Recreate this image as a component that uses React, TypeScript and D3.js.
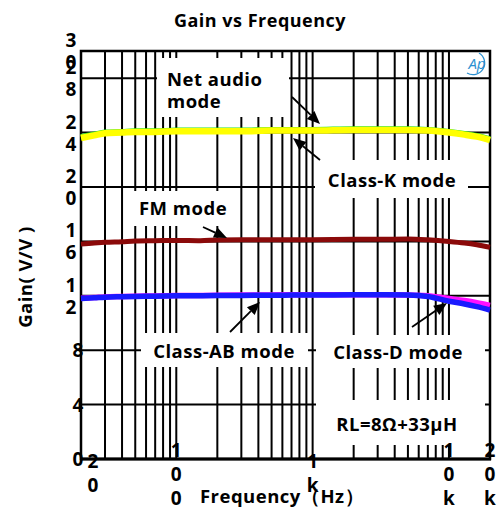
import React from "react";
import * as d3 from "d3";

// Measured gain (V/V) of each operating mode against frequency (Hz)
const freqs = [20, 25, 30, 40, 50, 70, 100, 150, 200, 300, 500, 700, 1000, 2000, 3000, 5000, 7000, 10000, 13000, 16000, 20000];
const netAudio = [23.6, 23.8, 23.95, 24.0, 24.05, 24.05, 24.1, 24.1, 24.1, 24.1, 24.15, 24.15, 24.15, 24.2, 24.2, 24.2, 24.15, 24.0, 23.85, 23.7, 23.45];
const classK = [23.68, 23.86, 24.0, 24.05, 24.1, 24.1, 24.15, 24.15, 24.15, 24.15, 24.2, 24.2, 24.2, 24.25, 24.25, 24.25, 24.2, 24.05, 23.9, 23.75, 23.5];
const fmMode = [15.8, 15.88, 15.93, 15.98, 16.03, 16.05, 16.07, 16.05, 16.1, 16.12, 16.12, 16.13, 16.13, 16.15, 16.15, 16.18, 16.12, 16.0, 15.88, 15.75, 15.57];
const classD = [11.82, 11.87, 11.92, 11.95, 11.97, 11.99, 12.02, 12.03, 12.04, 12.05, 12.06, 12.07, 12.07, 12.08, 12.08, 12.06, 12.0, 11.8, 11.65, 11.5, 11.3];
const classAB = [11.8, 11.85, 11.9, 11.93, 11.95, 11.97, 12.0, 12.01, 12.02, 12.03, 12.04, 12.05, 12.05, 12.07, 12.07, 12.05, 11.95, 11.6, 11.4, 11.2, 10.95];

const xTickValues = [20, 100, 1000, 10000, 20000];
const xTickLabels = ["20", "100", "1k", "10k", "20k"];
const yTickValues = [0, 4, 8, 12, 16, 20, 24, 28, 30];
const yTickLabels = ["0", "4", "8", "12", "16", "20", "24", "28", "30"];
const yGridValues = [4, 8, 12, 16, 20, 24, 28];

const W = 502;
const H = 509;
const FONT = "'Open Sans', 'Liberation Sans', Arial, sans-serif";

const x = d3.scaleLog().domain([20, 20000]).range([81, 490]);
const y = d3.scaleLinear().domain([0, 30]).range([459, 51]);

// every integer multiple of a decade between 20 Hz and 20 kHz
const xGridValues: number[] = [];
for (let dec = 10; dec <= 10000; dec *= 10) {
  for (let k = 1; k <= 9; k++) {
    const f = dec * k;
    if (f > 20 && f < 20000) xGridValues.push(f);
  }
}

const line = d3
  .line<number>()
  .x((_, i) => x(freqs[i]))
  .y((d) => y(d))
  .curve(d3.curveMonotoneX);

type Box = { x0: number; y0: number; x1: number; y1: number };
const boxes: Box[] = [
  { x0: 157, y0: 58, x1: 289, y1: 117 },
  { x0: 315, y0: 160, x1: 468, y1: 198 },
  { x0: 128, y0: 191, x1: 238, y1: 226 },
  { x0: 141, y0: 333, x1: 308, y1: 367 },
  { x0: 316, y0: 335, x1: 485, y1: 368 },
  { x0: 316, y0: 400, x1: 485, y1: 445 },
];

function Arrow({ x1, y1, x2, y2 }: { x1: number; y1: number; x2: number; y2: number }) {
  const ang = Math.atan2(y2 - y1, x2 - x1);
  const len = 13;
  const half = 5.5;
  const bx = x2 - len * Math.cos(ang);
  const by = y2 - len * Math.sin(ang);
  const px = -Math.sin(ang) * half;
  const py = Math.cos(ang) * half;
  return (
    <g>
      <line x1={x1} y1={y1} x2={bx} y2={by} stroke="#000" strokeWidth={1.8} />
      <polygon points={`${x2},${y2} ${bx + px},${by + py} ${bx - px},${by - py}`} fill="#000" />
    </g>
  );
}

export default function App() {
  const labelStyle = { fontFamily: FONT, fontWeight: 700, fontSize: 18.5, letterSpacing: 0.5, fill: "#000" } as const;
  const tickStyle = { fontFamily: FONT, fontWeight: 700, fontSize: 19, fill: "#000" } as const;
  return (
    <svg width={W} height={H} style={{ position: "absolute", left: 0, top: 0, background: "#fff" }}>
      <rect x={0} y={0} width={W} height={H} fill="#fff" />
      {/* grid */}
      {xGridValues.map((f) => (
        <line key={"vx" + f} x1={x(f)} x2={x(f)} y1={y(30)} y2={y(0)} stroke="#000" strokeWidth={2} />
      ))}
      {yGridValues.map((v) => (
        <line key={"hy" + v} x1={x(20)} x2={x(20000)} y1={y(v)} y2={y(v)} stroke="#000" strokeWidth={2} />
      ))}
      {/* label backdrops */}
      {boxes.map((b, i) => (
        <rect key={"b" + i} x={b.x0} y={b.y0} width={b.x1 - b.x0} height={b.y1 - b.y0} fill="#fff" />
      ))}
      {/* frame */}
      <rect x={x(20)} y={y(30)} width={x(20000) - x(20)} height={y(0) - y(30)} fill="none" stroke="#000" strokeWidth={2.5} />
      <line x1={x(20) - 1} x2={x(20000) + 1} y1={y(0)} y2={y(0)} stroke="#000" strokeWidth={3} />

      {/* curves */}
      <path d={line(classK) || ""} fill="none" stroke="#22e022" strokeWidth={6} />
      <path d={line(netAudio) || ""} fill="none" stroke="#ffff00" strokeWidth={6.5} />
      <path d={line(fmMode) || ""} fill="none" stroke="#8b0a0a" strokeWidth={5} />
      <path d={line(classD) || ""} fill="none" stroke="#ff10ff" strokeWidth={5.5} />
      <path d={line(classAB) || ""} fill="none" stroke="#1a1aff" strokeWidth={5.5} />

      {/* arrows */}
      <Arrow x1={292} y1={97} x2={320} y2={124} />
      <Arrow x1={320} y1={160} x2={293} y2={138} />
      <Arrow x1={203} y1={227} x2={227} y2={238} />
      <Arrow x1={230} y1={332} x2={260} y2={302} />
      <Arrow x1={412} y1={327} x2={447} y2={303} />

      {/* annotations */}
      <text x={167} y={86} style={labelStyle}>Net audio</text>
      <text x={167} y={108} style={labelStyle}>mode</text>
      <text x={392} y={187} textAnchor="middle" style={labelStyle}>Class-K mode</text>
      <text x={183} y={215} textAnchor="middle" style={labelStyle}>FM mode</text>
      <text x={224} y={358} textAnchor="middle" style={labelStyle}>Class-AB mode</text>
      <text x={398} y={359} textAnchor="middle" style={labelStyle}>Class-D mode</text>
      <text x={397} y={431} textAnchor="middle" style={labelStyle}>RL=8Ω+33μH</text>

      {/* logo */}
      <g>
        <path d="M 467 73 A 11 11 0 1 0 479 53" fill="none" stroke="#2a8fd0" strokeWidth={1.3} />
        <text x={477} y={69} textAnchor="middle" style={{ fontFamily: FONT, fontStyle: "italic", fontSize: 15, fill: "#2a8fd0" }}>
          Ap
        </text>
      </g>

      {/* y tick labels, stacked one digit per line */}
      {yTickValues.map((v, i) => {
        const chars = yTickLabels[i].split("");
        const cx = chars.length > 1 ? 71 : 78;
        const first = y(v) - ((chars.length - 1) * 22) / 2;
        return (
          <text key={"yt" + v} textAnchor="middle" style={tickStyle}>
            {chars.map((c, j) => (
              <tspan key={j} x={cx} y={first + j * 22 + 7}>
                {c}
              </tspan>
            ))}
          </text>
        );
      })}

      {/* x tick labels, stacked one character per line */}
      {xTickValues.map((v, i) => {
        const chars = xTickLabels[i].split("");
        const cx = Math.max(x(v), 93);
        const first = chars.length === 3 ? 450 : 461;
        return (
          <text key={"xt" + v} textAnchor="middle" style={tickStyle}>
            {chars.map((c, j) => (
              <tspan key={j} x={cx} y={first + j * 24 + 7}>
                {c}
              </tspan>
            ))}
          </text>
        );
      })}

      {/* titles */}
      <text x={260} y={27} textAnchor="middle" style={{ ...labelStyle, fontSize: 18 }}>
        Gain vs Frequency
      </text>
      <text transform="translate(32,277) rotate(-90)" textAnchor="middle" style={labelStyle}>
        Gain( V/V )
      </text>
      <text x={282} y={503} textAnchor="middle" style={labelStyle}>
        Frequency（Hz）
      </text>
    </svg>
  );
}
